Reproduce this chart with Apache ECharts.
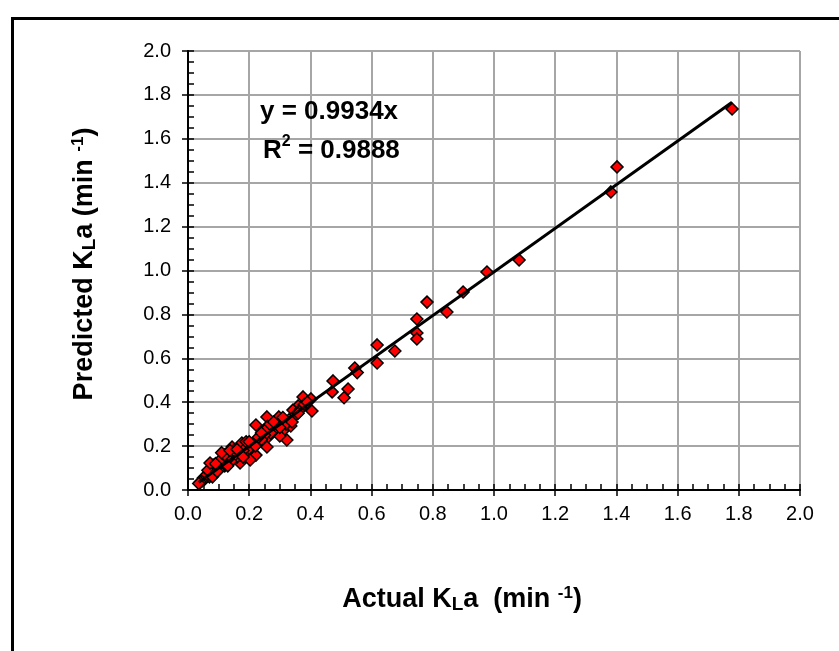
<!DOCTYPE html>
<html>
<head>
<meta charset="utf-8">
<script src="https://cdn.jsdelivr.net/npm/echarts@6/dist/echarts.min.js"></script>
<style>
html,body{margin:0;padding:0;background:#fff;}
#c{width:839px;height:651px;}
</style>
</head>
<body>
<div id="c"></div>
<script>
// ---- data ----
var actual = [1.778,1.402,1.382,1.082,0.977,0.899,0.846,0.781,0.748,0.748,0.748,0.676,0.618,0.618,0.545,0.553,
  0.474,0.471,0.523,0.510,0.376,0.402,0.405,0.360,0.343,0.258,0.297,0.222,0.268,0.310,0.336,0.323,0.262,0.235,0.300,
  0.258,0.222,0.176,0.144,0.131,0.163,0.190,0.170,0.082,0.114,0.203,
  0.350,0.370,0.380,0.330,0.320,0.290,0.280,0.270,0.250,0.240,0.230,0.210,0.200,0.180,0.170,0.160,0.150,0.140,0.130,
  0.120,0.110,0.100,0.090,0.085,0.075,0.070,0.060,0.055,0.050,0.045,0.040,0.035,0.100,0.120,0.150,0.190,0.220,0.260,
  0.280,0.310,0.340,0.360,0.390,0.300,0.250,0.065,0.080,0.095,0.130,0.180,0.200,0.240,0.110,0.137,0.160,0.072,0.090];
var predicted = [1.736,1.472,1.358,1.048,0.993,0.902,0.811,0.856,0.779,0.715,0.688,0.633,0.661,0.579,0.556,0.535,
  0.497,0.447,0.460,0.420,0.424,0.415,0.360,0.383,0.364,0.333,0.333,0.296,0.287,0.269,0.292,0.228,0.242,0.228,0.246,
  0.196,0.159,0.214,0.196,0.168,0.173,0.168,0.123,0.114,0.146,0.137,
  0.340,0.370,0.390,0.320,0.300,0.290,0.270,0.260,0.250,0.230,0.240,0.210,0.190,0.180,0.160,0.150,0.155,0.130,0.140,
  0.110,0.120,0.090,0.100,0.075,0.080,0.060,0.065,0.050,0.055,0.040,0.035,0.030,0.130,0.160,0.180,0.220,0.200,0.290,
  0.310,0.330,0.310,0.350,0.400,0.285,0.270,0.090,0.060,0.085,0.110,0.150,0.220,0.260,0.170,0.180,0.185,0.123,0.120];
var slope = 0.9934;
var rSquared = 0.9888;
var tickValues = [0,0.2,0.4,0.6,0.8,1.0,1.2,1.4,1.6,1.8,2.0];

var pts = actual.map(function(x,i){return [x, predicted[i]];});
var xmin = Math.min.apply(null, actual), xmax = Math.max.apply(null, actual);
var trend = [[xmin, slope*xmin],[xmax, slope*xmax]];

var FONT = '"Liberation Sans", Arial, sans-serif';
var chart = echarts.init(document.getElementById('c'), null, {renderer:'canvas'});

function baseAxis(extra){
  var a = {type:'value', min:tickValues[0], max:tickValues[tickValues.length-1], interval:tickValues[1]-tickValues[0]};
  for (var k in extra) a[k]=extra[k];
  return a;
}
var lbl = {show:true, color:'#000', fontSize:20, fontFamily:FONT, formatter:function(v){return v.toFixed(1);}};
function richTitle(size){
  return {
    a:{font:'bold '+size+'px ' + FONT, fill:'#000', lineHeight:34, verticalAlign:'middle'},
    s:{font:'bold '+Math.round(size*0.7)+'px ' + FONT, fill:'#000', lineHeight:34, verticalAlign:'bottom', padding:[0,0,3,0]},
    p:{font:'bold '+Math.round(size*0.62)+'px ' + FONT, fill:'#000', lineHeight:34, verticalAlign:'top', padding:[2,0,0,0]}
  };
}

chart.setOption({
  backgroundColor:'#fff',
  animation:false,
  grid:{left:188, top:51, right:39, bottom:161, containLabel:false},
  xAxis:[
    baseAxis({position:'bottom', axisLine:{show:true, lineStyle:{color:'#000', width:2}},
      axisTick:{show:true, inside:true, length:6, lineStyle:{color:'#000', width:1.5}},
      minorTick:{show:true, splitNumber:4, length:6, lineStyle:{color:'#000', width:1.5}},
      splitLine:{show:true, lineStyle:{color:'#a6a6a6', width:2}},
      axisLabel:Object.assign({margin:14}, lbl)}),
    baseAxis({position:'bottom', axisLine:{show:false},
      axisTick:{show:true, inside:false, length:6, lineStyle:{color:'#000', width:1.5}},
      splitLine:{show:false}, axisLabel:{show:false}}),
    baseAxis({position:'top', axisLine:{show:true, lineStyle:{color:'#000', width:2}},
      axisTick:{show:false}, splitLine:{show:false}, axisLabel:{show:false}})
  ],
  yAxis:[
    baseAxis({position:'left', axisLine:{show:true, lineStyle:{color:'#000', width:2}},
      axisTick:{show:true, inside:true, length:6, lineStyle:{color:'#000', width:1.5}},
      minorTick:{show:true, splitNumber:4, length:6, lineStyle:{color:'#000', width:1.5}},
      splitLine:{show:true, lineStyle:{color:'#a6a6a6', width:2}},
      axisLabel:Object.assign({margin:17}, lbl)}),
    baseAxis({position:'left', axisLine:{show:false},
      axisTick:{show:true, inside:false, length:6, lineStyle:{color:'#000', width:1.5}},
      splitLine:{show:false}, axisLabel:{show:false}}),
    baseAxis({position:'right', axisLine:{show:true, lineStyle:{color:'#000', width:2}},
      axisTick:{show:false}, splitLine:{show:false}, axisLabel:{show:false}})
  ],
  series:[
    {type:'scatter', xAxisIndex:0, yAxisIndex:0, data:pts, symbol:'diamond', symbolSize:12,
     itemStyle:{color:'#ff0000', borderColor:'#000', borderWidth:1.5, opacity:1}, z:3},
    {type:'line', xAxisIndex:0, yAxisIndex:0, data:trend, symbol:'none',
     lineStyle:{color:'#000', width:3}, z:4, silent:true}
  ],
  graphic:[
    {type:'rect', left:10, top:16, shape:{width:900, height:700}, style:{fill:'none', stroke:'#000', lineWidth:3}, z:100},
    {type:'text', left:260, top:99, style:{text:'y = ' + slope.toFixed(4) + 'x', font:'bold 26px ' + FONT, fill:'#000'}, z:100},
    {type:'text', left:263, top:134, style:{text:'{a|R}{p|2}{a| = ' + rSquared.toFixed(4) + '}',
      rich:{a:{font:'bold 26px ' + FONT, fill:'#000', lineHeight:30, verticalAlign:'bottom'},
            p:{font:'bold 16px ' + FONT, fill:'#000', lineHeight:30, verticalAlign:'top'}}}, z:100},
    {type:'text', x:462, y:600, style:{text:'{a|Actual K}{s|L}{a|a  (min }{p|-1}{a|)}', align:'center', verticalAlign:'middle',
      rich:richTitle(27)}, z:100},
    {type:'text', x:85, y:264, rotation:Math.PI/2, style:{text:'{a|Predicted K}{s|L}{a|a (min }{p|-1}{a|)}', align:'center', verticalAlign:'middle',
      rich:richTitle(27)}, z:100}
  ]
});
</script>
</body>
</html>
